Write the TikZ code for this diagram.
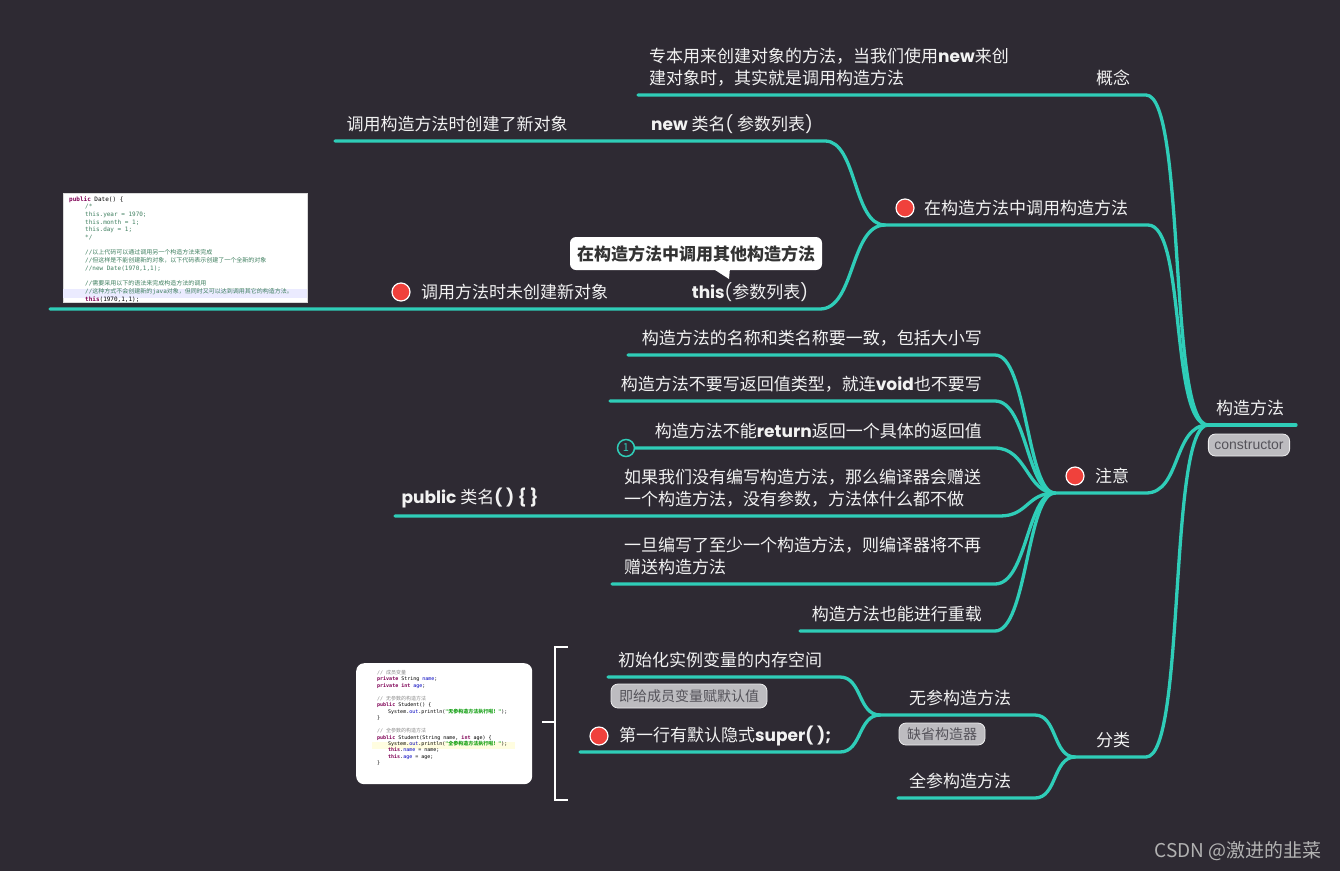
\documentclass[tikz,border=0pt]{standalone}
\usepackage{fontspec}
\setmainfont{Noto Sans CJK SC}
\newfontfamily\cj{Noto Sans CJK SC}
\newfontfamily\pop{Poppins}
\newfontfamily\mono{DejaVu Sans Mono}
\newfontfamily\lsans{Liberation Sans}
\definecolor{bg}{HTML}{2E2A33}
\definecolor{tl}{HTML}{2FCDB8}
\definecolor{dotred}{HTML}{F0413C}
\definecolor{tagbg}{HTML}{BDBCC0}
\definecolor{tagfg}{HTML}{55535A}
\definecolor{txtc}{HTML}{F2F2F2}
\definecolor{kw}{HTML}{7F0055}
\definecolor{cm}{HTML}{3F7F5F}
\definecolor{cmg}{HTML}{8A8A8A}
\definecolor{st}{HTML}{2A00FF}
\definecolor{stg}{HTML}{14A014}
\definecolor{fld}{HTML}{0000C0}
\newcommand\bl[1]{{\pop\bfseries #1}}
\newcommand\kwd[1]{{\color{kw}\bfseries #1}}
\begin{document}
\begin{tikzpicture}[x=1pt,y=-1pt,
  br/.style={draw=tl, line width=3.3pt, line cap=round},
  txt/.style={text=txtc, font=\fontsize{17}{22}\selectfont, inner sep=0pt},
  tag/.style={fill=tagbg, draw=white!75!tagbg, rounded corners=7pt, text=tagfg,
     font=\fontsize{14}{16}\selectfont, inner xsep=8pt, inner ysep=0pt, minimum height=23pt, line width=0.8pt},
  rdot/.style={circle, fill=dotred, draw=white, line width=1.2pt, minimum size=18pt, inner sep=0pt},
  code/.style={align=left, anchor=north west, inner sep=0pt}]
\fill[bg] (0,0) rectangle (1340,871);
\useasboundingbox (0,0) rectangle (1340,871);

% ---------- root ----------
\node[txt] (root) at (1250,408) {构造方法};
\node[tag, font=\lsans\fontsize{14}{16}\selectfont, inner xsep=6pt, minimum height=22pt] (rootTag) at (1249,445) {constructor};
\coordinate (J0) at (1208,425);
\coordinate (J0r) at (1296,425);
\draw[br] (J0) -- (J0r);

% ---------- 概念 ----------
\node[txt] (gn) at (1113,78) {概念};
\coordinate (gnL) at (1085,95);
\coordinate (gnR) at (1146,95);
\node[txt, anchor=west, align=left] (gnc) at (649,67) {专本用来创建对象的方法，当我们使用\bl{new}来创\\建对象时，其实就是调用构造方法};
\coordinate (gncL) at (638,95);
\draw[br] (gncL) -- (gnL) -- (gnR) .. controls +(40,0) and +(-40,0) .. (J0);

% ---------- 在构造方法中调用构造方法 ----------
\node[rdot] (d2) at (905,208) {};
\node[txt, anchor=west] (b2) at (924,208) {在构造方法中调用构造方法};
\coordinate (J2) at (885,225);
\coordinate (b2R) at (1148,225);
\draw[br] (J2) -- (b2R) .. controls +(38,0) and +(-38,0) .. (J0);

\node[txt] (nw) at (732,124) {\bl{new} 类名{\pop(} 参数列表{\pop)}};
\node[txt] (nwc) at (457,124) {调用构造方法时创建了新对象};
\coordinate (nwL) at (335,141);
\coordinate (nwR) at (825,141);
\draw[br] (nwL) -- (nwR) .. controls +(32,0) and +(-32,0) .. (J2);

\node[txt] (th) at (750,292) {\bl{this}{\pop(}参数列表{\pop)}};
\node[rdot] (d3) at (401,292) {};
\node[txt, anchor=west] (thc) at (421,292) {调用方法时未创建新对象};
\coordinate (thL) at (50,309);
\coordinate (thR) at (820,309);
\draw[br] (thL) -- (thR) .. controls +(35,0) and +(-35,0) .. (J2);

% callout
\node[fill=white, rounded corners=6pt, minimum width=252, minimum height=33, inner sep=0pt,
      text=black!80, font=\fontsize{17}{20}\selectfont\bfseries] (co) at (696,253.5) {在构造方法中调用其他构造方法};
\fill[white] (712,268) -- (729,279) -- (730,268) -- cycle;

% code image 1
\node[fill=white, draw=black!15, minimum width=244, minimum height=109, inner sep=0pt, anchor=north west] (img1) at (63,193) {};
\fill[blue!8] (63,289) rectangle (307,298);
\node[code, font=\mono\fontsize{6}{7.7}\selectfont] (code1) at (69,196) {%
\kwd{public} Date() \{\\
\hspace*{16pt}{\color{cm}/*}\\
\hspace*{16pt}{\color{cm}this.year = 1970;}\\
\hspace*{16pt}{\color{cm}this.month = 1;}\\
\hspace*{16pt}{\color{cm}this.day = 1;}\\
\hspace*{16pt}{\color{cm}*/}\\
\mbox{}\\
\hspace*{16pt}{\color{cm}//{\cj 以上代码可以通过调用另一个构造方法来完成}}\\
\hspace*{16pt}{\color{cm}//{\cj 但这样是不能创建新的对象，以下代码表示创建了一个全新的对象}}\\
\hspace*{16pt}{\color{cm}//new Date(1970,1,1);}\\
\mbox{}\\
\hspace*{16pt}{\color{cm}//{\cj 需要采用以下的语法来完成构造方法的调用}}\\
\hspace*{16pt}{\color{cm}//{\cj 这种方式不会创建新的}java{\cj 对象，但同时又可以达到调用其它的构造方法。}}\\
\hspace*{16pt}\kwd{this}(1970,1,1);};

% ---------- 注意 ----------
\node[rdot] (d4) at (1075,476) {};
\node[txt, anchor=west] (zy) at (1095,476) {注意};
\coordinate (J3) at (1055,493);
\coordinate (zyR) at (1146,493);
\draw[br] (J3) -- (zyR) .. controls +(35,0) and +(-35,0) .. (J0);

\node[txt, anchor=east] (z1) at (982,338) {构造方法的名称和类名称要一致，包括大小写};
\coordinate (z1L) at (628,355); \coordinate (z1R) at (995,355);
\draw[br] (z1L) -- (z1R) .. controls +(32,0) and +(-28,0) .. (J3);

\node[txt, anchor=east] (z2) at (982,384) {构造方法不要写返回值类型，就连\bl{void}也不要写};
\coordinate (z2L) at (610,401); \coordinate (z2R) at (995,401);
\draw[br] (z2L) -- (z2R) .. controls +(32,0) and +(-28,0) .. (J3);

\node[txt, anchor=east] (z3) at (982,431) {构造方法不能\bl{return}返回一个具体的返回值};
\coordinate (z3R) at (995,448);
\node[circle, draw=tl, line width=1.5pt, fill=bg, minimum size=17pt, inner sep=0pt, text=tl,
      font=\fontsize{11}{12}\selectfont] (n1) at (626,448) {1};
\draw[br] (n1.east) -- (z3R) .. controls +(32,0) and +(-28,0) .. (J3);

\node[txt, anchor=west, align=left] (z4) at (624,488) {如果我们没有编写构造方法，那么编译器会赠送\\一个构造方法，没有参数，方法体什么都不做};
\node[txt] (z4c) at (470,498) {\bl{public} 类名{\pop\bfseries( ) \{ \}}};
\coordinate (z4L) at (395,516); \coordinate (z4R) at (1000,516);
\draw[br] (z4L) -- (z4R) .. controls +(28,0) and +(-28,0) .. (J3);

\node[txt, anchor=west, align=left] (z5) at (624,556) {一旦编写了至少一个构造方法，则编译器将不再\\赠送构造方法};
\coordinate (z5L) at (612,584); \coordinate (z5R) at (995,584);
\draw[br] (z5L) -- (z5R) .. controls +(32,0) and +(-28,0) .. (J3);

\node[txt, anchor=east] (z6) at (982,614) {构造方法也能进行重载};
\coordinate (z6L) at (800,631); \coordinate (z6R) at (995,631);
\draw[br] (z6L) -- (z6R) .. controls +(32,0) and +(-28,0) .. (J3);

% ---------- 分类 ----------
\node[txt] (fl) at (1113,740) {分类};
\coordinate (J4) at (1075,757);
\coordinate (flR) at (1146,757);
\draw[br] (J4) -- (flR) .. controls +(40,0) and +(-40,0) .. (J0);

\node[txt] (wc) at (960,698) {无参构造方法};
\node[tag, minimum height=22pt] (wcTag) at (942,734) {缺省构造器};
\coordinate (J5) at (880,715);
\coordinate (wcR) at (1035,715);
\draw[br] (J5) -- (wcR) .. controls +(22,0) and +(-22,0) .. (J4);

\node[txt] (w1) at (720,660) {初始化实例变量的内存空间};
\node[tag, minimum height=24pt] (w1Tag) at (689,696) {即给成员变量赋默认值};
\coordinate (w1L) at (608,677); \coordinate (w1R) at (840,677);
\draw[br] (w1L) -- (w1R) .. controls +(22,0) and +(-22,0) .. (J5);

\node[rdot] (d5) at (599,736) {};
\node[txt, anchor=west] (w2) at (619,736) {第一行有默认隐式\bl{super( );}};
\coordinate (w2L) at (580,752); \coordinate (w2R) at (840,752);
\draw[br] (w2L) -- (w2R) .. controls +(22,0) and +(-22,0) .. (J5);

\node[txt] (qc) at (960,781) {全参构造方法};
\coordinate (qcL) at (898,798); \coordinate (qcR) at (1035,798);
\draw[br] (qcL) -- (qcR) .. controls +(22,0) and +(-22,0) .. (J4);

% bracket
\coordinate (bk1) at (568,647); \coordinate (bk2) at (555,647);
\coordinate (bk3) at (555,800); \coordinate (bk4) at (568,800);
\coordinate (bkm) at (542,722); \coordinate (bkn) at (555,722);
\draw[white, line width=2.2pt] (bk1) -- (bk2) -- (bk3) -- (bk4);
\draw[white, line width=2.2pt] (bkm) -- (bkn);

% code image 2
\node[fill=white, rounded corners=8pt, minimum width=176, minimum height=121, inner sep=0pt, anchor=north west] (img2) at (356,663) {};
\fill[yellow!12] (372,742) rectangle (515,748.5);
\node[code, font=\mono\fontsize{5}{6.46}\selectfont] (code2) at (377,670) {%
{\color{cmg}// {\cj 成员变量}}\\
\kwd{private} String {\color{fld}name};\\
\kwd{private} \kwd{int} {\color{fld}age};\\
\mbox{}\\
{\color{cmg}// {\cj 无参数的构造方法}}\\
\kwd{public} Student() \{\\
\hspace*{11pt}System.{\color{fld}out}.println({\color{stg}\bfseries "{\cj 无参构造方法执行啦！}"});\\
\}\\
\mbox{}\\
{\color{cmg}// {\cj 全参数的构造方法}}\\
\kwd{public} Student(String name, \kwd{int} age) \{\\
\hspace*{11pt}System.{\color{fld}out}.println({\color{stg}\bfseries "{\cj 全参构造方法执行啦！}"});\\
\hspace*{11pt}\kwd{this}.{\color{fld}name} = name;\\
\hspace*{11pt}\kwd{this}.{\color{fld}age} = age;\\
\}};

% watermark
\node[text=black!30!white, font=\fontsize{19}{22}\selectfont, inner sep=0pt] (wm) at (1238,851) {CSDN @激进的韭菜};
\end{tikzpicture}
\end{document}
